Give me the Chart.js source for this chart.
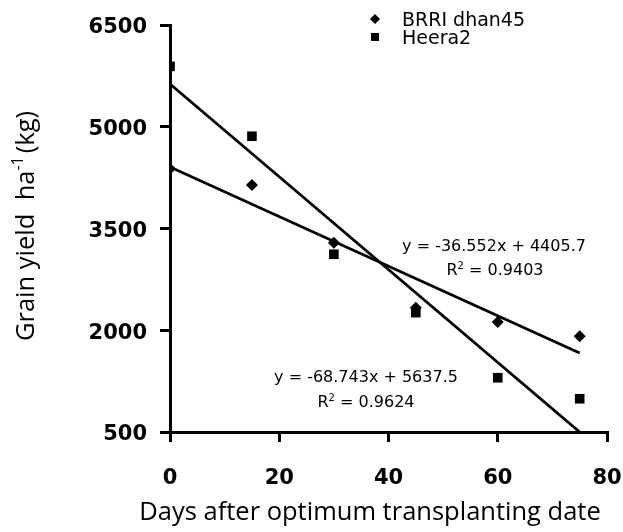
<!DOCTYPE html>
<html><head><meta charset="utf-8">
<script src="https://cdn.jsdelivr.net/npm/chart.js@4/dist/chart.umd.min.js"></script>
<style>html,body{margin:0;padding:0;background:#fff}#wrap{width:623px;height:532px}</style>
</head><body><div id="wrap"><canvas id="c" width="623" height="532"></canvas></div>
<script>
const days = [0, 15, 30, 45, 60, 75];
const brriYield = [4380, 4140, 3290, 2330, 2120, 1910];
const heeraYield = [5890, 4860, 3120, 2260, 1300, 990];
const trendDays = [0, 75];
const brriTrend = [4406, 1665];
const heeraTrend = [5630, 500];
const xTicks = [0, 20, 40, 60, 80];
const yTicks = [500, 2000, 3500, 5000, 6500];
const seriesNames = ['BRRI dhan45', 'Heera2'];
const brriEq = ['y = -36.552x + 4405.7', '0.9403'];
const heeraEq = ['y = -68.743x + 5637.5', '0.9624'];
const xTitle = 'Days after optimum transplanting date';

const pts = (xs, ys) => xs.map((x, i) => ({x: x, y: ys[i]}));

function drawR2(ctx, val, cx, base) {
  const r = 'R', rest = ' = ' + val;
  ctx.font = '16px "DejaVu Sans"';
  const wR = ctx.measureText(r).width;
  const wRest = ctx.measureText(rest).width;
  ctx.font = '10px "DejaVu Sans"';
  const wS = ctx.measureText('2').width;
  const total = wR + wS + wRest;
  let x = cx - total / 2;
  ctx.textAlign = 'left';
  ctx.font = '16px "DejaVu Sans"';
  ctx.fillText(r, x, base); x += wR;
  ctx.font = '10px "DejaVu Sans"';
  ctx.fillText('2', x, base - 6); x += wS;
  ctx.font = '16px "DejaVu Sans"';
  ctx.fillText(rest, x, base);
}

const overlay = {
  id: 'overlay',
  afterDraw(chart) {
    const ctx = chart.ctx;
    ctx.save();
    ctx.fillStyle = '#000';
    // legend
    ctx.beginPath();
    ctx.moveTo(375, 14); ctx.lineTo(380, 19); ctx.lineTo(375, 24); ctx.lineTo(370, 19); ctx.closePath();
    ctx.fill();
    ctx.fillRect(371, 33, 8, 8);
    ctx.font = '19px "DejaVu Sans"';
    ctx.textAlign = 'left'; ctx.textBaseline = 'alphabetic';
    ctx.fillText(seriesNames[0], 402, 26);
    ctx.fillText(seriesNames[1], 402, 44);
    // equations
    ctx.font = '16px "DejaVu Sans"';
    ctx.textAlign = 'center';
    ctx.fillText(brriEq[0], 494, 251);
    drawR2(ctx, brriEq[1], 495, 275);
    ctx.font = '16px "DejaVu Sans"';
    ctx.textAlign = 'center';
    ctx.fillText(heeraEq[0], 366, 382);
    drawR2(ctx, heeraEq[1], 366, 407);
    // x title
    ctx.font = '25.5px "Open Sans"';
    ctx.textAlign = 'center';
    ctx.fillText(xTitle, 370, 520);
    // y title rotated
    ctx.translate(34, 226);
    ctx.rotate(-Math.PI / 2);
    const a = 'Grain yield  ha', sup = '-1', b = '(kg)';
    ctx.font = '25.5px "Open Sans"';
    const wa = ctx.measureText(a).width, wb = ctx.measureText(b).width;
    ctx.font = '16px "Open Sans"';
    const ws = ctx.measureText(sup).width;
    const tot = wa + ws + 3 + wb;
    let x = -tot / 2;
    ctx.textAlign = 'left';
    ctx.font = '25.5px "Open Sans"';
    ctx.fillText(a, x, 0); x += wa;
    ctx.font = '16px "Open Sans"';
    ctx.fillText(sup, x, -11); x += ws + 3;
    ctx.font = '25.5px "Open Sans"';
    ctx.fillText(b, x, 0);
    ctx.restore();
  }
};

const tickFont = {family: 'DejaVu Sans', weight: 'bold', size: 21};

new Chart(document.getElementById('c'), {
  type: 'scatter',
  data: {
    datasets: [
      {label: seriesNames[0], data: pts(days, brriYield), pointStyle: 'rectRot', pointRadius: 6, backgroundColor: '#000', borderColor: '#000', borderWidth: 0, showLine: false},
      {label: seriesNames[1], data: pts(days, heeraYield), pointStyle: 'rect', pointRadius: 6.8, backgroundColor: '#000', borderColor: '#000', borderWidth: 0, showLine: false},
      {label: 'trend1', data: pts(trendDays, brriTrend), showLine: true, pointRadius: 0, borderColor: '#000', borderWidth: 2.8, fill: false},
      {label: 'trend2', data: pts(trendDays, heeraTrend), showLine: true, pointRadius: 0, borderColor: '#000', borderWidth: 2.8, fill: false}
    ]
  },
  options: {
    responsive: false,
    devicePixelRatio: 1,
    animation: false,
    layout: {padding: {top: 25, right: 16, left: 0, bottom: 0}},
    plugins: {legend: {display: false}, tooltip: {enabled: false}},
    scales: {
      x: {
        type: 'linear', min: 0, max: 80,
        afterBuildTicks: s => { s.ticks = xTicks.map(v => ({value: v})); },
        afterFit: s => { s.height = 100; s.paddingLeft = 0; s.paddingRight = 0; },
        ticks: {font: tickFont, color: '#000', padding: 24, callback: v => String(v)},
        grid: {drawOnChartArea: false, drawTicks: true, tickLength: 10, color: '#000', lineWidth: 3},
        border: {display: true, color: '#000', width: 3}
      },
      y: {
        type: 'linear', min: 500, max: 6500,
        afterBuildTicks: s => { s.ticks = yTicks.map(v => ({value: v})); },
        afterFit: s => { s.width = 170; s.paddingTop = 0; s.paddingBottom = 0; },
        ticks: {font: tickFont, color: '#000', padding: 13, labelOffset: 3, callback: v => String(v)},
        grid: {drawOnChartArea: false, drawTicks: true, tickLength: 10, color: '#000', lineWidth: 3},
        border: {display: true, color: '#000', width: 3}
      }
    }
  },
  plugins: [overlay]
});
</script></body></html>
